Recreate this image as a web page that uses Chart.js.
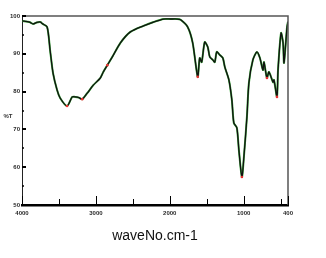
<!DOCTYPE html>
<html lang="en">
<head>
    <meta charset="UTF-8">
    <title>IR Spectrum</title>
    <style>
        body {
            margin: 0;
            padding: 0;
            background-color: #ffffff;
        }
        #irChart {
            display: block;
        }
    </style>
</head>
<body>
    <canvas id="irChart" width="326" height="258"></canvas>

    <script src="https://cdn.jsdelivr.net/npm/chart.js"></script>
    <script>
        // Spectrum (wavenumber, %T)
        const waveNumbers = [4000, 3900, 3850, 3800, 3750, 3728, 3660, 3620, 3580, 3525, 3484, 3390, 3320, 3280, 3230, 3185,
            3117, 3035, 2940, 2900, 2845, 2777, 2668, 2533, 2356, 2220, 2084, 1990, 1900, 1853, 1758, 1690, 1622, 1595,
            1568, 1527, 1486, 1459, 1418, 1391, 1364, 1323, 1282, 1255, 1200, 1160, 1133, 1092, 1065, 1024, 997, 956,
            929, 875, 820, 780, 739, 725, 685, 658, 603, 590, 549, 535, 494, 467, 454, 413, 400];
        const transmittance = [98.7, 98.4, 97.9, 98.3, 98.4, 98.0, 97.1, 91.0, 84.9, 80.4, 78.3, 76.2, 78.6, 78.6, 78.4, 78.0,
            79.6, 81.7, 83.6, 85.2, 87.0, 89.2, 92.9, 95.8, 97.4, 98.4, 99.2, 99.2, 99.2, 99.0, 97.1, 92.9, 83.9, 88.9,
            87.8, 93.1, 91.8, 89.2, 88.4, 87.8, 90.5, 89.7, 88.9, 86.5, 83.1, 77.8, 71.7, 70.4, 64.6, 57.4, 62.7, 73.3,
            82.3, 88.4, 90.5, 88.9, 85.7, 87.8, 83.6, 85.2, 82.5, 83.1, 78.6, 85.7, 95.5, 92.9, 87.6, 97.1, 98.5];

        // small red marks at the picked peaks
        const peakWaveNumbers = [3390, 3185, 2845, 1622, 1024, 685, 549];
        const peakValues = [76.2, 78.0, 87.0, 83.9, 57.4, 83.6, 78.6];

        const xTickValues = [4000, 3000, 2000, 1000, 400];
        const xMinorTicks = [3500, 2500, 1500, 500];
        const yTickValues = [50, 60, 70, 80, 90, 100];
        const yMinorTicks = [55, 65, 75, 85, 95];

        const spectrum = waveNumbers.map((w, i) => ({ x: w, y: transmittance[i] }));
        const peaks = peakWaveNumbers.map((w, i) => ({ x: w, y: peakValues[i] }));

        // frame, inner tick marks and the %T label
        const framePlugin = {
            id: 'frame',
            afterDraw(chart) {
                const c = chart.ctx;
                const a = chart.chartArea;
                const xs = chart.scales.x;
                const ys = chart.scales.y;
                c.save();
                c.strokeStyle = '#555555';
                c.lineWidth = 1.5;
                c.beginPath();
                c.moveTo(a.left, a.top);
                c.lineTo(a.right, a.top);
                c.lineTo(a.right, a.bottom);
                c.stroke();

                c.strokeStyle = '#000000';
                c.lineWidth = 1;
                c.beginPath();
                xTickValues.forEach(v => {
                    const px = Math.round(xs.getPixelForValue(v)) + 0.5;
                    c.moveTo(px, a.bottom);
                    c.lineTo(px, a.bottom - 9);
                });
                xMinorTicks.forEach(v => {
                    const px = Math.round(xs.getPixelForValue(v)) + 0.5;
                    c.moveTo(px, a.bottom);
                    c.lineTo(px, a.bottom - 6);
                });
                c.stroke();

                c.lineWidth = 2;
                c.beginPath();
                yTickValues.forEach(v => {
                    const py = Math.round(ys.getPixelForValue(v));
                    c.moveTo(a.left, py);
                    c.lineTo(a.left + 4, py);
                });
                c.stroke();
                c.lineWidth = 1.5;
                c.beginPath();
                yMinorTicks.forEach(v => {
                    const py = Math.round(ys.getPixelForValue(v));
                    c.moveTo(a.left, py);
                    c.lineTo(a.left + 2, py);
                });
                c.stroke();

                c.fillStyle = '#333333';
                c.font = 'bold 6px Arial';
                c.textAlign = 'center';
                c.textBaseline = 'middle';
                c.fillText('%T', 8, (a.top + a.bottom) / 2 + 6);
                c.restore();
            }
        };

        const ctx = document.getElementById('irChart').getContext('2d');
        const chart = new Chart(ctx, {
            type: 'line',
            data: {
                datasets: [{
                    label: 'spectrum',
                    data: spectrum,
                    borderColor: '#111111',
                    borderWidth: 1.3,
                    pointRadius: 0,
                    tension: 0.25,
                    order: 1
                }, {
                    label: 'green trace',
                    data: spectrum,
                    borderColor: '#3aa63a',
                    borderWidth: 2,
                    pointRadius: 0,
                    tension: 0.25,
                    order: 2
                }, {
                    label: 'peaks',
                    type: 'scatter',
                    data: peaks,
                    pointRadius: 1.3,
                    pointBackgroundColor: '#e83030',
                    pointBorderWidth: 0,
                    order: 0
                }]
            },
            options: {
                responsive: false,
                animation: false,
                layout: {
                    padding: { top: 16, right: 38, left: 0, bottom: 0 }
                },
                plugins: {
                    legend: { display: false },
                    tooltip: { enabled: false }
                },
                scales: {
                    x: {
                        type: 'linear',
                        reverse: true,
                        min: 400,
                        max: 4000,
                        afterFit: scale => { scale.height = 53; },
                        afterBuildTicks: scale => {
                            scale.ticks = xTickValues.map(v => ({ value: v }));
                        },
                        grid: { display: false, drawTicks: false },
                        border: { display: true, color: '#000000', width: 2.5 },
                        ticks: {
                            padding: 5,
                            color: '#2a2a2a',
                            font: { family: 'Arial', size: 6, weight: 'bold' },
                            maxRotation: 0,
                            autoSkip: false,
                            callback: v => String(v)
                        },
                        title: {
                            display: true,
                            text: 'waveNo.cm-1',
                            color: '#111111',
                            font: { family: 'Arial', size: 14 },
                            padding: { top: 0, bottom: 13 }
                        }
                    },
                    y: {
                        min: 50,
                        max: 100,
                        afterFit: scale => { scale.width = 22; },
                        afterBuildTicks: scale => {
                            scale.ticks = yTickValues.map(v => ({ value: v }));
                        },
                        grid: { display: false, drawTicks: false },
                        border: { display: true, color: '#222222', width: 1 },
                        ticks: {
                            padding: 2,
                            color: '#2a2a2a',
                            font: { family: 'Arial', size: 6, weight: 'bold' },
                            callback: v => String(v)
                        }
                    }
                }
            },
            plugins: [framePlugin]
        });
    </script>
</body>
</html>
